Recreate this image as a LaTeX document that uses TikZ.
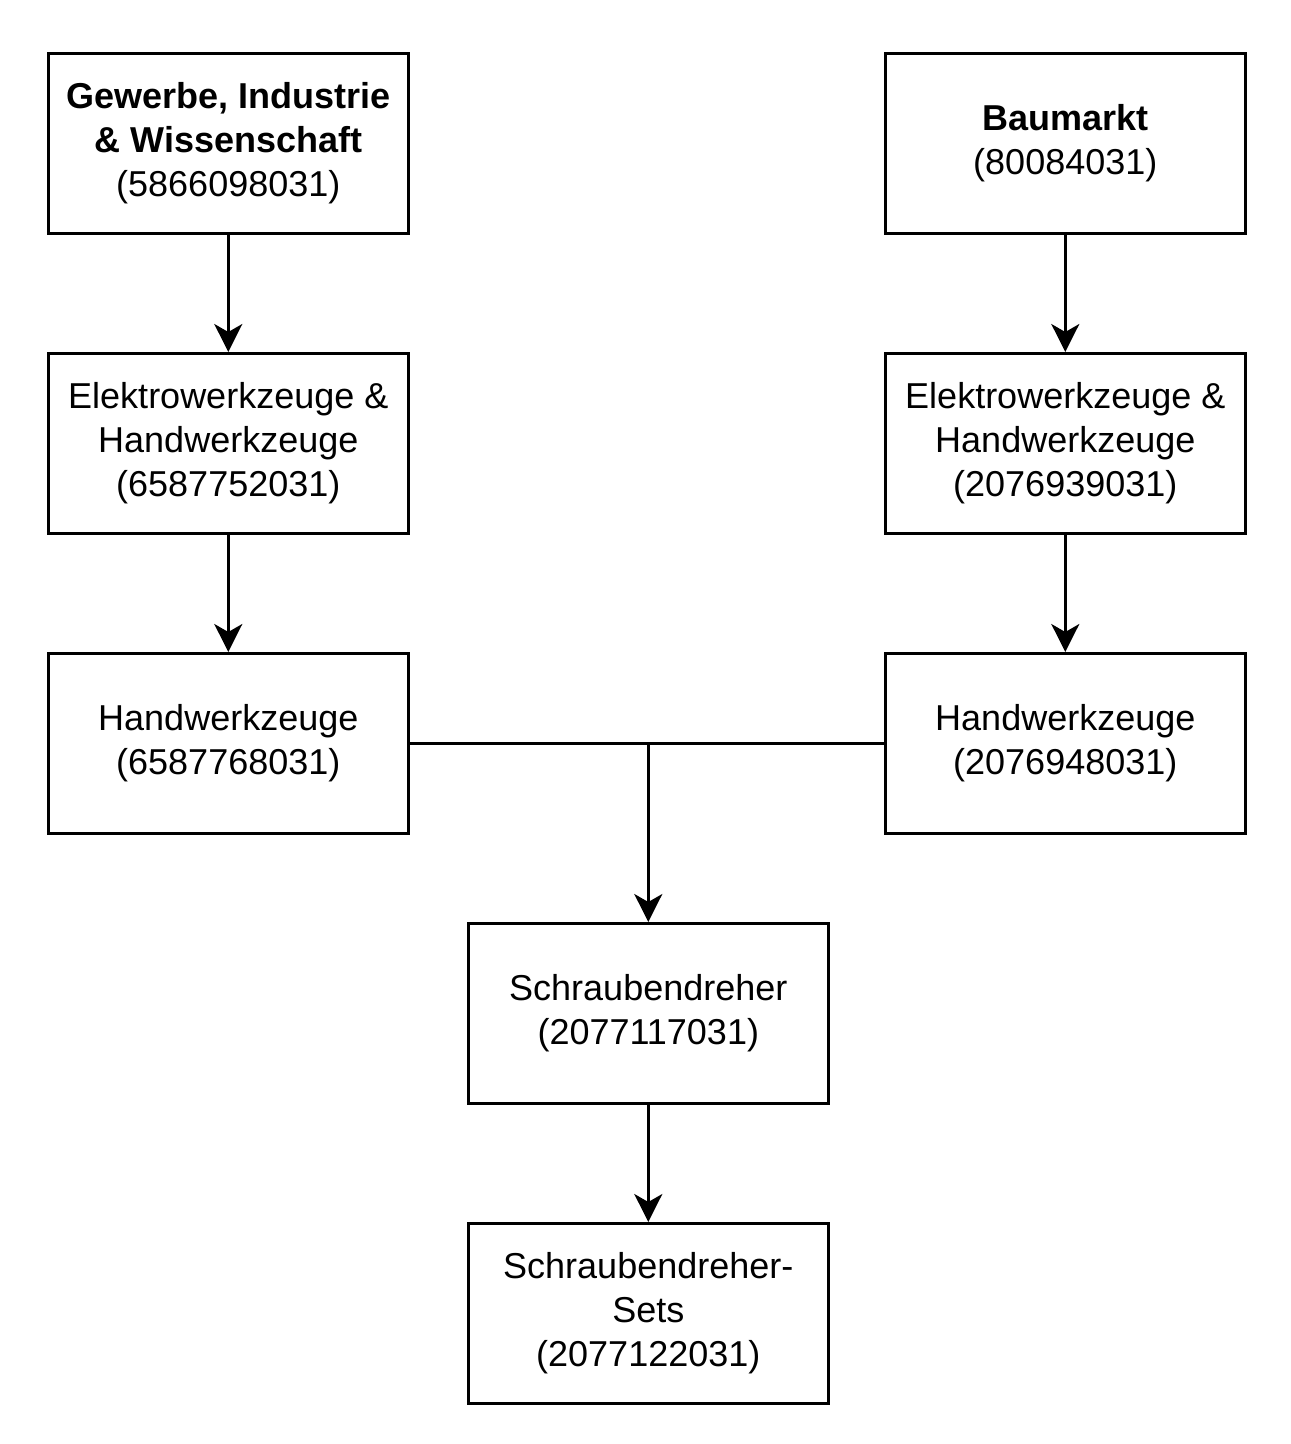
\documentclass[tikz,border=0pt]{standalone}
\usepackage{fontspec}
\setmainfont{Liberation Sans}
\usetikzlibrary{arrows.meta}
\begin{document}
\begin{tikzpicture}[x=1pt,y=-1pt,
  box/.style={draw, line width=2.6pt, minimum width=360pt, minimum height=180pt, inner sep=0pt, align=center,
    font=\fontsize{36}{44}\selectfont, anchor=north west},
  conn/.style={line width=2.6pt, -{Stealth[length=28pt,width=28pt,inset=8pt]}},
  plain/.style={line width=2.6pt}]
\useasboundingbox (1,1) rectangle (1292,1445);
\node[box] (g) at (48,53) {\textbf{Gewerbe, Industrie}\\\textbf{\& Wissenschaft}\\(5866098031)};
\node[box] (b) at (885,53) {\textbf{Baumarkt}\\(80084031)};
\node[box] (e1) at (48,353) {Elektrowerkzeuge \&\\Handwerkzeuge\\(6587752031)};
\node[box] (e2) at (885,353) {Elektrowerkzeuge \&\\Handwerkzeuge\\(2076939031)};
\node[box] (h1) at (48,653) {Handwerkzeuge\\(6587768031)};
\node[box] (h2) at (885,653) {Handwerkzeuge\\(2076948031)};
\node[box] (s) at (468,923) {Schraubendreher\\(2077117031)};
\node[box] (ss) at (468,1223) {Schraubendreher-\\Sets\\(2077122031)};
\coordinate (j) at (s.north |- h1.east);
\draw[conn] (g) -- (e1);
\draw[conn] (e1) -- (h1);
\draw[conn] (b) -- (e2);
\draw[conn] (e2) -- (h2);
\draw[plain] (h1.east) -- (h2.west);
\draw[conn] (j) -- (s.north);
\draw[conn] (s) -- (ss);
\end{tikzpicture}
\end{document}
